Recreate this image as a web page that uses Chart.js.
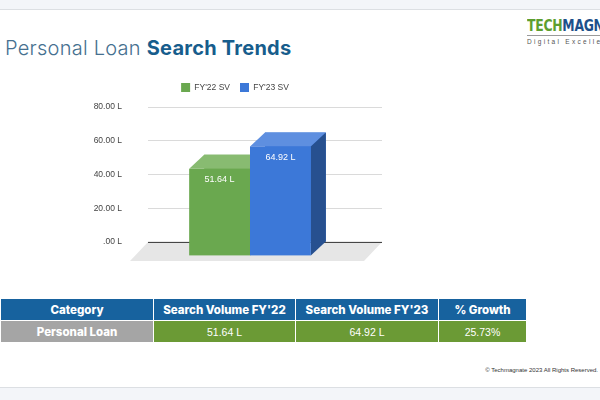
<!DOCTYPE html>
<html>
<head>
<meta charset="utf-8">
<script src="https://cdn.jsdelivr.net/npm/chart.js"></script>
<style>
  body { margin: 0; width: 600px; height: 400px; position: relative; overflow: hidden; background: #fff; font-family: "Liberation Sans", Arial, sans-serif; }
  .topband { position: absolute; left: 0; top: 0; width: 600px; height: 9px; background: #f3f5f9; border-bottom: 1px solid #dcdfe3; }
  .botband { position: absolute; left: 0; top: 387px; width: 600px; height: 13px; background: #f3f5f9; border-top: 1px solid #dcdfe3; }
  .title { position: absolute; left: 5px; top: 36px; font-family: Inter, sans-serif; font-weight: 300; font-size: 20px; letter-spacing: 0.25px; color: #46708f; white-space: nowrap; }
  .title b { font-weight: 700; color: #175d8c; }
  .logo { position: absolute; left: 527px; top: 17px; white-space: nowrap; }
  .logo .word { font-family: "DejaVu Sans Condensed", sans-serif; font-weight: 700; font-size: 16px; line-height: 17px; letter-spacing: -0.3px; transform: scaleX(0.86); transform-origin: left center; }
  .logo .g { color: #5d9e2f; }
  .logo .b { color: #1d4f8a; }
  .logo .rule { width: 80px; height: 1px; background: #9a9a9a; margin-top: 1px; }
  .logo .sub { font-size: 6.5px; letter-spacing: 2.3px; color: #555; margin-top: 2px; }
  #wrap { position: absolute; left: 88px; top: 73px; width: 300px; height: 200px; }
  table { position: absolute; left: 0; top: 298px; border-collapse: collapse; table-layout: fixed; width: 526px; }
  td, th { border: 1px solid #fff; color: #fff; text-align: center; padding: 0; font-size: 10.5px; }
  th { background: #17629e; height: 21px; font-family: Inter, sans-serif; font-weight: 800; font-size: 11.5px; }
  td { background: #6b9a35; height: 21px; }
  td.cat { background: #a5a5a5; font-family: Inter, sans-serif; font-weight: 800; font-size: 11.5px; }
  .foot { position: absolute; right: 2px; top: 367px; font-size: 6px; color: #333; white-space: nowrap; }
</style>
</head>
<body>
<div class="topband"></div>
<div class="botband"></div>
<div class="title">Personal Loan <b>Search Trends</b></div>
<div class="logo">
  <div class="word"><span class="g">TECH</span><span class="b">MAGNATE</span></div>
  <div class="rule"></div>
  <div class="sub">Digital Excellence</div>
</div>
<div id="wrap"><canvas id="chart"></canvas></div>
<table id="tbl"></table>
<div class="foot">© Techmagnate 2023 All Rights Reserved.</div>

<script>
// chart data
const categories = ['Personal Loan'];
const seriesNames = ["FY'22 SV", "FY'23 SV"];
const fy22Values = [51.64];
const fy23Values = [64.92];
const yTickLabels = ['.00 L', '20.00 L', '40.00 L', '60.00 L', '80.00 L'];

// table data
const tableHeaders = ['Category', "Search Volume FY'22", "Search Volume FY'23", '% Growth'];
const tableRow = ['Personal Loan', '51.64 L', '64.92 L', '25.73%'];

// colours per series: front, top, side
const faceColors = [
    { front: '#6aa84f', top: '#88bb71', side: '#4d7d39' },
    { front: '#3c78d8', top: '#5e8fe0', side: '#27508f' }
];

// depth of the 3D extrusion (front face is shifted by this)
const DEPTH_X = -15, DEPTH_Y = 14;

// a bit more room under the legend
const legendGap = {
    id: 'legendGap',
    beforeInit(chart) {
        const fit = chart.legend.fit;
        chart.legend.fit = function () {
            fit.bind(chart.legend)();
            this.height += 5;
        };
    }
};

const bars3d = {
    id: 'bars3d',
    beforeDatasetsDraw(chart) {
        const { ctx, chartArea, scales } = chart;
        const y0 = scales.y.getPixelForValue(0);
        // floor
        ctx.save();
        ctx.fillStyle = '#e6e6e6';
        ctx.beginPath();
        ctx.moveTo(chartArea.left, y0);
        ctx.lineTo(chartArea.right, y0);
        ctx.lineTo(chartArea.right - 18, y0 + 19);
        ctx.lineTo(chartArea.left - 18, y0 + 19);
        ctx.closePath();
        ctx.fill();
        ctx.strokeStyle = '#333';
        ctx.lineWidth = 1;
        ctx.beginPath();
        ctx.moveTo(chartArea.left, y0 + 0.5);
        ctx.lineTo(chartArea.right, y0 + 0.5);
        ctx.stroke();
        ctx.restore();
    },
    afterDatasetsDraw(chart) {
        const { ctx } = chart;
        ctx.save();
        chart.data.datasets.forEach((ds, di) => {
            const c = faceColors[di];
            chart.getDatasetMeta(di).data.forEach((bar, i) => {
                const l = bar.x - bar.width / 2, r = bar.x + bar.width / 2;
                const t = bar.y, b = bar.base;
                const fl = l + DEPTH_X, fr = r + DEPTH_X, ft = t + DEPTH_Y, fb = b + DEPTH_Y;
                // top face
                ctx.fillStyle = c.top;
                ctx.beginPath();
                ctx.moveTo(l, t); ctx.lineTo(r, t); ctx.lineTo(fr, ft); ctx.lineTo(fl, ft);
                ctx.closePath(); ctx.fill();
                // side face
                ctx.fillStyle = c.side;
                ctx.beginPath();
                ctx.moveTo(r, t); ctx.lineTo(r, b); ctx.lineTo(fr, fb); ctx.lineTo(fr, ft);
                ctx.closePath(); ctx.fill();
                // front face
                ctx.fillStyle = c.front;
                ctx.fillRect(fl, ft, fr - fl, fb - ft);
                // value label
                ctx.fillStyle = '#fff';
                ctx.font = '9px "Liberation Sans", Arial, sans-serif';
                ctx.textAlign = 'center';
                ctx.textBaseline = 'middle';
                ctx.fillText(ds.data[i].toFixed(2) + ' L', (fl + fr) / 2, ft + 11);
            });
        });
        ctx.restore();
    }
};

new Chart(document.getElementById('chart'), {
    type: 'bar',
    data: {
        labels: categories,
        datasets: [
            { label: seriesNames[0], data: fy22Values, backgroundColor: faceColors[0].front },
            { label: seriesNames[1], data: fy23Values, backgroundColor: faceColors[1].front }
        ]
    },
    options: {
        responsive: true,
        maintainAspectRatio: false,
        animation: false,
        layout: { padding: { top: 0, right: 6, bottom: 26 } },
        datasets: { bar: { categoryPercentage: 0.52, barPercentage: 1 } },
        plugins: {
            legend: {
                display: true,
                labels: {
                    boxWidth: 9, boxHeight: 9, padding: 10,
                    color: '#444',
                    font: { size: 8.5, family: '"Liberation Sans", Arial, sans-serif' }
                }
            },
            tooltip: { enabled: false }
        },
        scales: {
            x: { display: false },
            y: {
                min: 0, max: 80,
                afterFit: (scale) => { scale.width = 60; },
                border: { display: false },
                grid: {
                    drawTicks: false,
                    color: (ctx) => ctx.tick && ctx.tick.value === 0 ? 'rgba(0,0,0,0)' : '#dadada'
                },
                ticks: {
                    stepSize: 20, padding: 26, color: '#444',
                    font: { size: 8.5, family: '"Liberation Sans", Arial, sans-serif' },
                    callback: (v, i) => yTickLabels[i]
                }
            }
        }
    },
    plugins: [legendGap, bars3d]
});

// build the table
const tbl = document.getElementById('tbl');
const colWidths = [153, 142, 143, 88];
const cg = document.createElement('colgroup');
colWidths.forEach(w => { const c = document.createElement('col'); c.style.width = w + 'px'; cg.appendChild(c); });
tbl.appendChild(cg);
const hr = tbl.insertRow();
tableHeaders.forEach(h => { const th = document.createElement('th'); th.textContent = h; hr.appendChild(th); });
const dr = tbl.insertRow();
tableRow.forEach((v, i) => { const td = dr.insertCell(); td.textContent = v; if (i === 0) td.className = 'cat'; });
</script>
</body>
</html>
